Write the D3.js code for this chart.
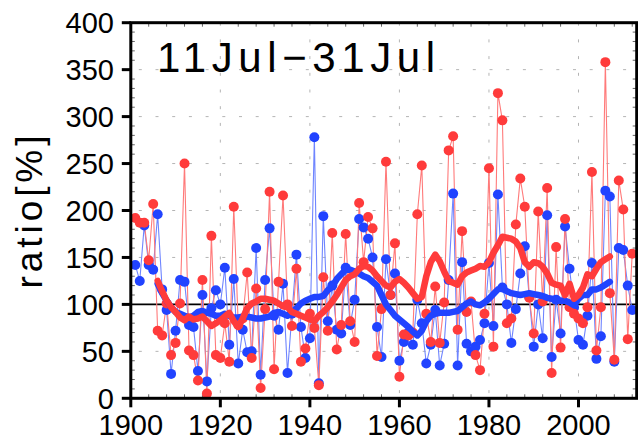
<!DOCTYPE html>
<html><head><meta charset="utf-8">
<script src="https://cdn.jsdelivr.net/npm/d3@7"></script>
<style>html,body{margin:0;padding:0;background:#fff;}svg{display:block;}</style>
</head><body>
<script>
const startYear = 1901;
const redValues = [192,187,187,147,207,72,67,101,46,59,101,250,51,46,19,126,5,173,46,43,
80,39,204,78,85,134,43,117,11,95,220,31,124,216,100,77,138,39,53,90,
75,14,129,72,176,52,78,175,82,60,208,145,193,181,45,95,252,110,165,23,
68,67,70,196,248,90,60,119,59,102,264,279,73,178,92,103,46,30,90,245,
55,325,296,80,85,185,234,204,107,69,199,103,224,27,161,54,191,97,90,85,
80,97,241,51,97,358,112,41,232,201,63,154];
const blueValues = [142,125,184,142,137,196,116,94,26,72,126,124,78,76,29,110,18,96,115,100,
139,57,127,37,73,49,50,160,25,126,181,88,73,122,27,90,153,76,43,64,
278,16,194,82,120,73,69,139,78,105,191,182,170,150,76,44,148,110,133,40,
60,70,57,105,80,37,57,94,35,58,126,218,35,145,58,50,55,62,80,144,
77,217,118,100,59,95,133,162,108,55,100,64,195,44,105,69,183,138,97,62,
57,88,144,42,66,221,215,39,160,158,120,94];
const meanStartYear = 1906;
const redMean = [125,114,104,97,92,86,83,87,84,85,87,82,77,80,83,87,91,82,76,85,
96,101,103,106,106,105,104,101,98,97,92,90,88,86,84,82,88,92,97,103,
110,118,126,130,132,138,141,140,136,130,125,120,118,124,127,123,118,112,106,108,
130,145,153,146,135,125,123,121,130,134,136,138,141,140,145,155,163,172,171,170,
167,160,145,140,145,144,140,133,123,121,120,110,122,106,110,118,132,130,138,145,
148,151];
const blueMean = [122,112,104,97,92,90,88,86,88,92,93,91,90,88,88,90,88,86,86,87,
87,86,85,85,86,87,91,92,90,88,91,96,101,104,106,108,108,109,115,119,
127,132,137,137,135,133,130,128,124,120,110,100,94,88,84,80,76,71,67,72,
82,88,90,91,91,91,92,93,97,101,103,100,99,102,106,111,116,117,114,112,
111,110,111,112,111,110,109,107,106,105,104,104,102,99,106,110,110,116,116,118,
121,124];
const yTicks = [0,50,100,150,200,250,300,350,400];
const xTicks = [1900,1920,1940,1960,1980,2000];
const titleText = "11Jul\u221231Jul";
const yLabelText = "ratio[%]";

const W = 638, H = 441;
const svg = d3.select("body").append("svg").attr("width", W).attr("height", H);
const x = d3.scaleLinear().domain([1900, 2013]).range([130.8, 636.7]);
const y = d3.scaleLinear().domain([0, 400]).range([398.3, 22.7]);
const font = "'Liberation Sans', Arial, sans-serif";

const red = redValues.map((v,i)=>({yr:startYear+i, v}));
const blue = blueValues.map((v,i)=>({yr:startYear+i, v}));
const redM = redMean.map((v,i)=>({yr:meanStartYear+i, v}));
const blueM = blueMean.map((v,i)=>({yr:meanStartYear+i, v}));

const clipId = "plotclip";
svg.append("clipPath").attr("id", clipId).append("rect")
  .attr("x", x(1900)).attr("y", y(400)).attr("width", x(2013)-x(1900)).attr("height", y(0)-y(400));

// grid
const grid = svg.append("g");
[50,150,200,250,300,350].forEach(v=>{
  grid.append("line").attr("x1", x(1900)+8).attr("x2", x(2013)).attr("y1", y(v)).attr("y2", y(v))
    .attr("stroke", "#b4b4b4").attr("stroke-width", 1).attr("stroke-dasharray", "3,13.7");
});
[1920,1940,1960,1980,2000].forEach(v=>{
  grid.append("line").attr("x1", x(v)).attr("x2", x(v)).attr("y1", y(400)).attr("y2", y(0))
    .attr("stroke", "#b4b4b4").attr("stroke-width", 1).attr("stroke-dasharray", "3,13.7");
});

// minor ticks
const minor = svg.append("g").attr("stroke", "#666").attr("stroke-width", 1);
d3.range(10, 400, 10).forEach(v=>{
  if (v % 50 === 0) return;
  minor.append("line").attr("x1", x(1900)).attr("x2", x(1900)+4).attr("y1", y(v)).attr("y2", y(v));
  minor.append("line").attr("x1", x(2013)-4).attr("x2", x(2013)).attr("y1", y(v)).attr("y2", y(v));
});
d3.range(1904, 2013, 4).forEach(v=>{
  if (v % 20 === 0) return;
  minor.append("line").attr("x1", x(v)).attr("x2", x(v)).attr("y1", y(0)).attr("y2", y(0)-4);
  minor.append("line").attr("x1", x(v)).attr("x2", x(v)).attr("y1", y(400)).attr("y2", y(400)+4);
});

// 100 reference line
svg.append("line").attr("x1", x(1900)).attr("x2", x(2013)).attr("y1", y(100)).attr("y2", y(100))
  .attr("stroke", "#000").attr("stroke-width", 1.6);

const plot = svg.append("g").attr("clip-path", `url(#${clipId})`);
const line = d3.line().x(d=>x(d.yr)).y(d=>y(d.v));

plot.append("path").datum(blue).attr("d", line).attr("fill","none").attr("stroke","#6f85ff").attr("stroke-width",1.1);
plot.append("path").datum(red).attr("d", line).attr("fill","none").attr("stroke","#ff7a7a").attr("stroke-width",1.1);
plot.append("g").selectAll("circle").data(blue).join("circle")
  .attr("cx", d=>x(d.yr)).attr("cy", d=>y(d.v)).attr("r", 5).attr("fill", "#2143ff");
plot.append("g").selectAll("circle").data(red).join("circle")
  .attr("cx", d=>x(d.yr)).attr("cy", d=>y(d.v)).attr("r", 5).attr("fill", "#ff3b3b");
plot.append("path").datum(blueM).attr("d", line).attr("fill","none").attr("stroke","#2143ff")
  .attr("stroke-width",6.5).attr("stroke-linejoin","round").attr("stroke-linecap","round");
plot.append("path").datum(redM).attr("d", line).attr("fill","none").attr("stroke","#ff3b3b")
  .attr("stroke-width",6.5).attr("stroke-linejoin","round").attr("stroke-linecap","round");

// frame
svg.append("rect").attr("x", x(1900)).attr("y", y(400)).attr("width", x(2013)-x(1900)).attr("height", y(0)-y(400))
  .attr("fill","none").attr("stroke","#000").attr("stroke-width",3);

// major ticks + labels
const yAxis = svg.append("g");
yTicks.forEach(v=>{
  yAxis.append("line").attr("x1", x(1900)-9).attr("x2", x(1900)).attr("y1", y(v)).attr("y2", y(v))
    .attr("stroke","#000").attr("stroke-width",3);
  yAxis.append("text").attr("x", 114).attr("y", y(v)).attr("dy", "0.36em").attr("text-anchor","end")
    .attr("font-family", font).attr("font-size", 29).attr("fill","#000").text(v);
});
const xAxis = svg.append("g");
xTicks.forEach(v=>{
  xAxis.append("line").attr("x1", x(v)).attr("x2", x(v)).attr("y1", y(0)).attr("y2", y(0)+9)
    .attr("stroke","#000").attr("stroke-width",3);
  xAxis.append("text").attr("x", x(v)).attr("y", 435).attr("text-anchor","middle")
    .attr("font-family", font).attr("font-size", 29).attr("fill","#000").text(v);
});

// title
svg.append("text").attr("x", 157).attr("y", 72).attr("font-family", font).attr("font-size", 42)
  .attr("textLength", 278).attr("lengthAdjust", "spacing").attr("fill","#000").text(titleText);

// y label
svg.append("text").attr("transform", "translate(42,212) rotate(-90)").attr("text-anchor","middle")
  .attr("font-family", font).attr("font-size", 37).attr("textLength", 153).attr("lengthAdjust","spacing")
  .attr("fill","#000").text(yLabelText);
</script>
</body></html>
